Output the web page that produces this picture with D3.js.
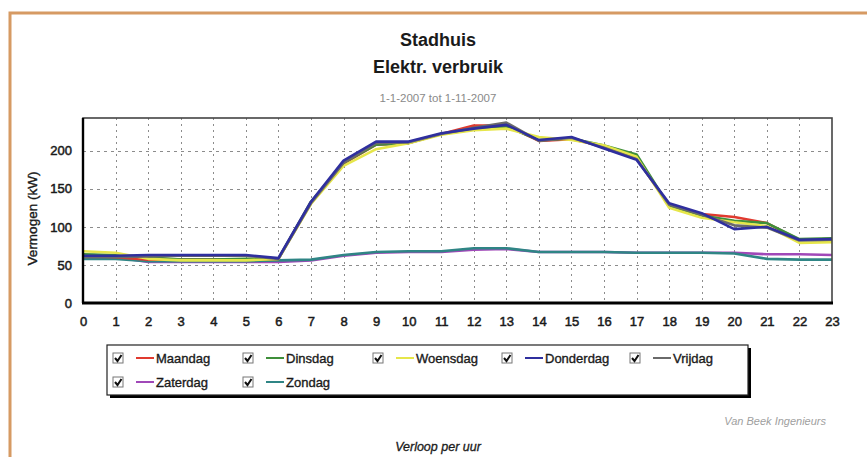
<!DOCTYPE html>
<html>
<head>
<meta charset="utf-8">
<script src="https://cdn.jsdelivr.net/npm/d3@7"></script>
<style>
  html, body { margin: 0; padding: 0; background: #fff; }
  svg { display: block; font-family: "Liberation Sans", Arial, sans-serif; }
</style>
</head>
<body>
<svg id="chart" width="867" height="457"></svg>
<script>
// Hourly average electrical power (kW) per weekday, 1-1-2007 to 1-11-2007
const hours = d3.range(0, 24);
const dayNames = ["Maandag", "Dinsdag", "Woensdag", "Donderdag", "Vrijdag", "Zaterdag", "Zondag"];
const dayColors = ["#e03a2f", "#3f8f3a", "#e6e64a", "#2f2f9e", "#6a6a6a", "#a048b8", "#2f8585"];

const maandag   = [62, 60, 57, 57, 57, 57, 58, 132, 183, 208, 210, 222, 233, 233, 213, 215, 206, 190, 128, 117, 113, 105, 83, 84];
const dinsdag   = [64, 63, 60, 57, 57, 58, 58, 133, 184, 208, 210, 222, 228, 232, 214, 216, 207, 195, 127, 115, 108, 105, 84, 85];
const woensdag  = [68, 66, 58, 56, 56, 56, 58, 130, 180, 202, 210, 221, 227, 229, 218, 214, 207, 192, 125, 112, 106, 101, 79, 80];
const donderdag = [62, 62, 63, 63, 63, 63, 59, 133, 187, 212, 212, 223, 229, 234, 214, 218, 203, 188, 131, 118, 97, 100, 83, 84];
const vrijdag   = [60, 60, 61, 62, 62, 62, 58, 131, 184, 210, 211, 222, 230, 237, 213, 217, 204, 189, 129, 116, 102, 99, 82, 83];
const zaterdag  = [60, 60, 54, 54, 54, 54, 54, 56, 62, 66, 67, 67, 70, 71, 67, 67, 67, 66, 66, 66, 66, 64, 64, 63];
const zondag    = [58, 58, 55, 55, 55, 55, 56, 57, 63, 67, 68, 68, 72, 72, 67, 67, 67, 66, 66, 66, 65, 58, 57, 57];

const yTicks = [0, 50, 100, 150, 200];

const seriesValues = [maandag, dinsdag, woensdag, donderdag, vrijdag, zaterdag, zondag];
const series = dayNames.map((name, i) => ({ name, color: dayColors[i], values: seriesValues[i] }));
// paint order: the Thursday line ends up on top of the working-day bundle
const drawOrder = [5, 6, 0, 1, 2, 4, 3];

const ink = "#1a1a1a";
const svg = d3.select("#chart");

// heavier text: fill plus a thin outline in the same colour
function heavy(sel, w) {
  return sel.attr("stroke", sel.attr("fill") || ink).attr("stroke-width", w).attr("paint-order", "stroke");
}

// orange page frame (top and left edges)
svg.append("path")
  .attr("d", "M10,457 L10,13 L867,13")
  .attr("fill", "none")
  .attr("stroke", "#d69a63")
  .attr("stroke-width", 3);

const cx = 438;
svg.append("text").attr("x", cx).attr("y", 46).attr("text-anchor", "middle")
  .attr("font-size", 18).attr("font-weight", "bold").attr("fill", ink).text("Stadhuis");
svg.append("text").attr("x", cx).attr("y", 73).attr("text-anchor", "middle")
  .attr("font-size", 18).attr("font-weight", "bold").attr("fill", ink).text("Elektr. verbruik");
svg.append("text").attr("x", cx).attr("y", 102).attr("text-anchor", "middle")
  .attr("font-size", 11.5).attr("fill", "#8a8a8a").text("1-1-2007 tot 1-11-2007");

const plot = { left: 83, right: 832, top: 118, bottom: 303 };

const x = d3.scaleLinear().domain([0, 23]).range([plot.left, plot.right]);
const y = d3.scaleLinear().domain([0, 243]).range([plot.bottom, plot.top]);

// grid
const grid = svg.append("g").attr("stroke", "#8c8c8c").attr("stroke-width", 1);
grid.selectAll("line.v").data(hours.slice(1, -1)).join("line").attr("class", "v")
  .attr("x1", d => Math.round(x(d)) + 0.5).attr("x2", d => Math.round(x(d)) + 0.5)
  .attr("y1", plot.top).attr("y2", plot.bottom)
  .attr("stroke-dasharray", "2,4");
grid.selectAll("line.h").data(yTicks.slice(1)).join("line").attr("class", "h")
  .attr("y1", d => Math.round(y(d)) + 0.5).attr("y2", d => Math.round(y(d)) + 0.5)
  .attr("x1", plot.left).attr("x2", plot.right)
  .attr("stroke-dasharray", "3,4");

// lines
const line = d3.line().x((d, i) => x(hours[i])).y(d => y(d));
svg.append("g").selectAll("path").data(drawOrder.map(i => series[i])).join("path")
  .attr("d", d => line(d.values))
  .attr("fill", "none")
  .attr("stroke", d => d.color)
  .attr("stroke-width", 2.6)
  .attr("stroke-linejoin", "round");

// frame
svg.append("rect")
  .attr("x", plot.left).attr("y", plot.top)
  .attr("width", plot.right - plot.left).attr("height", plot.bottom - plot.top)
  .attr("fill", "none").attr("stroke", "#444").attr("stroke-width", 1.6);
svg.append("line").attr("x1", plot.left - 1).attr("x2", plot.right + 1)
  .attr("y1", plot.bottom).attr("y2", plot.bottom)
  .attr("stroke", "#000").attr("stroke-width", 3);
svg.append("line").attr("x1", plot.left).attr("x2", plot.left)
  .attr("y1", plot.top).attr("y2", plot.bottom)
  .attr("stroke", "#000").attr("stroke-width", 2.4);

// axes
const xAxis = d3.axisBottom(x).tickValues(hours).tickSize(0).tickPadding(14).tickFormat(d3.format("d"));
const gx = svg.append("g").attr("transform", `translate(0,${plot.bottom})`).call(xAxis);
gx.select(".domain").remove();
gx.selectAll("text").attr("font-size", 13).attr("fill", ink)
  .attr("font-family", "Liberation Sans, Arial, sans-serif")
  .attr("stroke", ink).attr("stroke-width", 0.5);

const yAxis = d3.axisLeft(y).tickValues(yTicks).tickSize(0).tickPadding(11);
const gy = svg.append("g").attr("transform", `translate(${plot.left},0)`).call(yAxis);
gy.select(".domain").remove();
gy.selectAll("text").attr("font-size", 13).attr("fill", ink)
  .attr("font-family", "Liberation Sans, Arial, sans-serif")
  .attr("stroke", ink).attr("stroke-width", 0.5);

heavy(svg.append("text")
  .attr("transform", `translate(37,${(plot.top + plot.bottom) / 2 + 8}) rotate(-90)`)
  .attr("text-anchor", "middle").attr("font-size", 13.5).attr("fill", ink)
  .text("Vermogen (kW)"), 0.4);

// legend
const lg = { x: 107, y: 345, w: 641, h: 50 };
svg.append("rect").attr("x", lg.x + 3).attr("y", lg.y + 3).attr("width", lg.w).attr("height", lg.h)
  .attr("fill", "#000");
svg.append("rect").attr("x", lg.x).attr("y", lg.y).attr("width", lg.w).attr("height", lg.h)
  .attr("fill", "#fff").attr("stroke", "#222").attr("stroke-width", 1.2);

const colX = [113, 243, 373, 502, 630];
const rowY = [358, 382];
const items = svg.append("g").selectAll("g").data(series).join("g")
  .attr("transform", (d, i) => `translate(${colX[i % 5]},${rowY[Math.floor(i / 5)]})`);
items.append("rect").attr("x", 0).attr("y", -5).attr("width", 10).attr("height", 10)
  .attr("fill", "#fff").attr("stroke", "#777").attr("stroke-width", 1);
items.append("path").attr("d", "M2,0 L4.5,3 L8.5,-3")
  .attr("fill", "none").attr("stroke", "#111").attr("stroke-width", 2);
items.append("line").attr("x1", 23).attr("x2", 41).attr("y1", 0).attr("y2", 0)
  .attr("stroke", d => d.color).attr("stroke-width", 2);
items.append("text").attr("x", 43).attr("y", 4.5).attr("font-size", 13).attr("fill", ink)
  .attr("stroke", ink).attr("stroke-width", 0.35)
  .text(d => d.name);

svg.append("text").attr("x", 826).attr("y", 425).attr("text-anchor", "end")
  .attr("font-size", 11).attr("font-style", "italic").attr("fill", "#a0a0a0")
  .text("Van Beek Ingenieurs");
heavy(svg.append("text").attr("x", cx).attr("y", 451).attr("text-anchor", "middle")
  .attr("font-size", 12.5).attr("font-style", "italic").attr("fill", ink)
  .text("Verloop per uur"), 0.3);
</script>
</body>
</html>
